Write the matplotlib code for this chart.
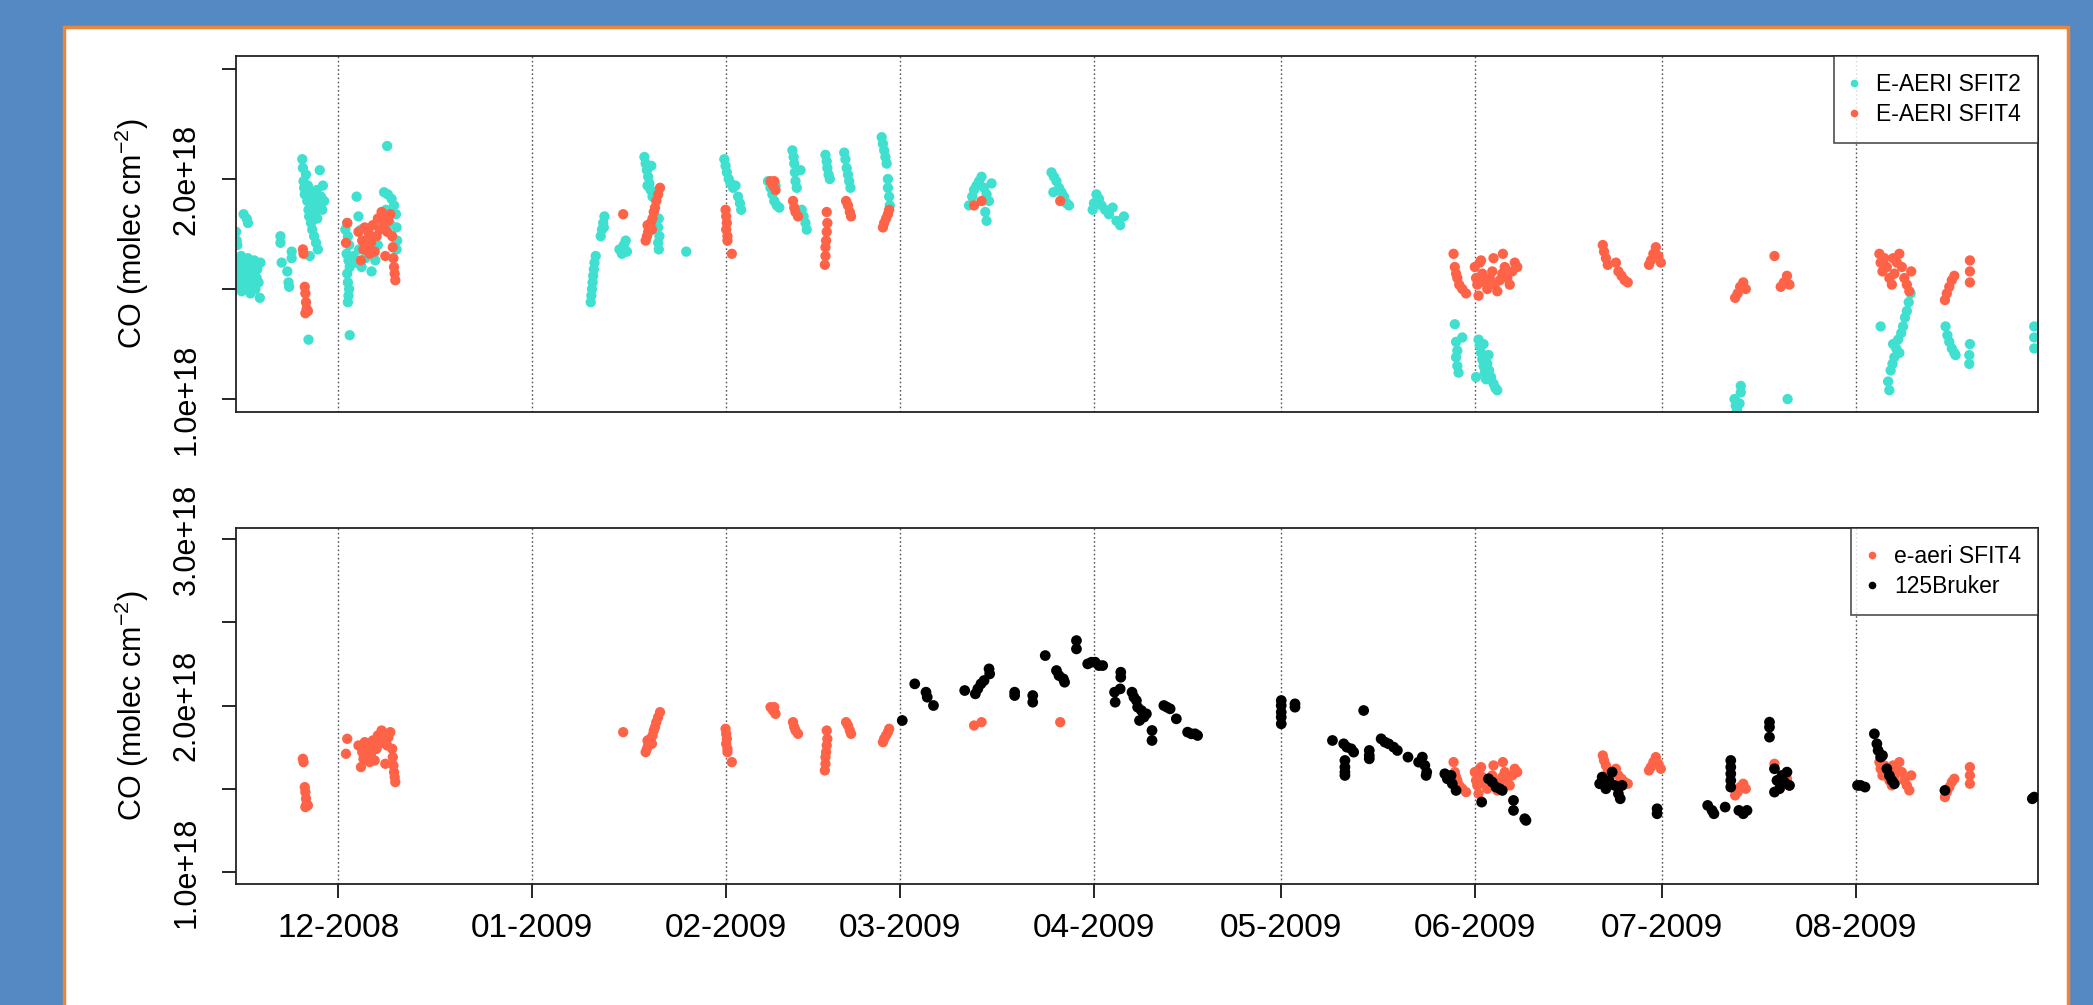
import numpy as np
import matplotlib.pyplot as plt
import matplotlib.dates as mdates
from matplotlib.lines import Line2D
from matplotlib.patches import Rectangle
from datetime import datetime

plt.rcParams['font.family'] = ['Liberation Sans', 'DejaVu Sans']
plt.rcParams['mathtext.fontset'] = 'custom'
plt.rcParams['mathtext.rm'] = 'Liberation Sans'
plt.rcParams['mathtext.it'] = 'Liberation Sans:italic'
plt.rcParams['mathtext.bf'] = 'Liberation Sans:bold'

START = datetime(2008, 12, 1)

# (days since 2008-12-01, CO column in 1e18 molec cm-2)
sfit2 = [
    (-16.4, 1.76), (-16.3, 1.72), (-16.4, 1.62), (-16.4, 1.55), (-16.2, 1.70), (-16.0, 1.58),
    (-15.8, 1.52), (-15.6, 1.65), (-15.5, 1.49), (-15.3, 1.57), (-15.1, 1.61), (-15.0, 1.53),
    (-14.8, 1.50), (-14.6, 1.58), (-14.5, 1.64), (-14.3, 1.55), (-14.1, 1.48), (-14.0, 1.60),
    (-13.8, 1.52), (-13.6, 1.57), (-13.5, 1.63), (-13.3, 1.50), (-13.1, 1.55), (-13.0, 1.59),
    (-12.8, 1.53), (-12.6, 1.46), (-12.5, 1.62), (-15.2, 1.84), (-14.7, 1.82), (-14.5, 1.80),
    (-9.3, 1.74), (-9.3, 1.71), (-9.1, 1.62), (-8.2, 1.58), (-8.0, 1.53), (-7.9, 1.51),
    (-7.5, 1.67), (-7.5, 1.64),
    (-5.8, 2.09), (-5.7, 2.05), (-5.6, 1.99), (-5.5, 1.96), (-5.4, 1.93), (-5.2, 2.02),
    (-5.0, 1.90), (-4.9, 1.97), (-4.8, 1.86), (-4.7, 1.83), (-4.5, 1.94), (-4.4, 1.80),
    (-4.3, 1.88), (-4.2, 1.77), (-4.0, 1.91), (-3.9, 1.74), (-3.8, 1.85), (-3.6, 1.71),
    (-3.5, 1.95), (-3.4, 1.82), (-3.3, 1.68), (-3.1, 1.89), (-3.0, 2.04), (-2.8, 1.92),
    (-2.6, 1.86), (-2.5, 1.97), (-2.3, 1.90), (-4.8, 1.27), (-4.6, 1.65),
    (2.9, 1.92), (3.2, 1.83), (1.4, 1.80), (1.1, 1.77), (1.5, 1.74), (1.7, 1.70), (1.3, 1.66),
    (1.6, 1.63), (1.8, 1.60), (1.4, 1.57), (1.5, 1.53), (1.7, 1.50), (1.6, 1.47), (1.5, 1.44),
    (1.8, 1.29), (2.4, 1.65), (2.8, 1.62), (3.3, 1.68), (3.7, 1.60), (4.3, 1.64), (4.8, 1.66),
    (5.3, 1.58), (5.9, 1.63), (6.3, 1.70), (4.1, 1.72), (3.6, 1.77),
    (7.8, 2.15), (7.3, 1.94), (7.9, 1.93), (8.5, 1.91), (8.9, 1.88), (9.2, 1.84), (9.3, 1.78),
    (9.4, 1.72), (9.3, 1.68), (7.6, 1.86), (8.2, 1.80),
    (40.4, 1.44), (40.5, 1.47), (40.6, 1.50), (40.7, 1.53), (40.8, 1.56), (40.9, 1.59),
    (41.0, 1.62), (41.2, 1.65), (42.0, 1.74), (42.2, 1.77), (42.4, 1.80), (42.6, 1.83),
    (42.5, 1.78), (45.0, 1.68), (45.4, 1.66), (45.7, 1.70), (46.0, 1.72), (46.2, 1.67),
    (49.0, 2.10), (49.2, 2.07), (49.4, 2.04), (49.6, 2.01), (49.8, 1.98), (50.0, 1.95),
    (50.3, 1.92), (50.1, 2.06), (49.5, 1.97), (51.3, 1.82), (51.2, 1.78), (51.4, 1.74),
    (51.2, 1.71), (51.3, 1.68), (55.7, 1.67),
    (61.8, 2.09), (62.0, 2.06), (62.2, 2.03), (62.5, 2.00), (62.8, 1.98), (63.2, 1.96),
    (63.6, 1.97), (64.0, 1.92), (64.3, 1.89), (64.5, 1.86),
    (68.8, 1.99), (69.2, 1.96), (69.5, 1.93), (69.8, 1.90), (70.2, 1.88), (70.6, 1.87), (70.0, 1.97),
    (72.7, 2.13), (72.9, 2.10), (73.0, 2.07), (73.1, 2.03), (73.2, 1.99), (73.4, 1.96),
    (74.0, 2.04), (74.2, 1.86), (74.5, 1.83), (74.8, 1.80), (75.0, 1.77),
    (78.0, 2.11), (78.2, 2.08), (78.3, 2.05), (78.5, 2.02), (78.7, 2.00),
    (81.0, 2.12), (81.2, 2.09), (81.4, 2.05), (81.6, 2.02), (81.8, 1.99), (82.0, 1.96),
    (87.0, 2.19), (87.2, 2.16), (87.4, 2.13), (87.6, 2.10), (87.8, 2.07), (88.0, 2.00),
    (88.0, 1.96), (88.2, 1.92), (88.3, 1.88),
    (101.0, 1.88), (101.5, 1.92), (101.8, 1.95), (102.2, 1.97), (102.6, 1.99), (103.0, 2.01),
    (103.4, 1.96), (103.8, 1.93), (104.2, 1.90), (103.6, 1.85), (103.8, 1.81), (104.6, 1.98),
    (114.2, 2.03), (114.6, 2.01), (115.0, 1.99), (115.4, 1.96), (115.8, 1.94), (116.2, 1.92),
    (116.6, 1.89), (117.0, 1.88), (114.5, 1.94),
    (120.8, 1.86), (121.0, 1.89), (121.4, 1.93), (121.8, 1.91), (122.2, 1.88), (122.8, 1.86),
    (123.4, 1.84), (124.0, 1.87), (124.6, 1.81), (125.2, 1.79), (125.8, 1.83),
    (178.8, 1.34), (179.0, 1.26), (179.2, 1.22), (179.0, 1.19), (179.2, 1.15), (179.4, 1.12),
    (180.0, 1.28), (182.2, 1.10), (182.6, 1.27), (182.8, 1.24), (183.0, 1.21), (183.2, 1.18),
    (183.4, 1.15), (183.6, 1.12), (183.8, 1.09), (184.0, 1.16), (184.3, 1.13), (184.6, 1.10),
    (185.0, 1.07), (185.3, 1.05), (185.6, 1.04), (184.2, 1.20), (183.4, 1.25),
    (223.6, 1.00), (223.8, 0.97), (224.0, 0.95), (224.4, 0.98), (224.6, 1.03), (224.6, 1.06),
    (232.1, 1.00),
    (247.0, 1.33), (248.2, 1.08), (248.4, 1.04), (248.6, 1.13), (248.9, 1.16), (249.2, 1.19),
    (249.5, 1.23), (249.8, 1.27), (250.0, 1.21), (250.3, 1.30), (250.6, 1.33), (250.9, 1.37),
    (251.2, 1.40), (251.5, 1.44), (251.8, 1.48), (249.0, 1.25),
    (257.4, 1.33), (257.7, 1.29), (258.0, 1.26), (258.4, 1.23), (258.8, 1.21), (259.0, 1.20),
    (261.3, 1.25), (261.2, 1.20), (261.2, 1.16),
    (271.6, 1.33), (271.6, 1.28), (271.6, 1.23),
]

sfit4 = [
    (-5.7, 1.68), (-5.6, 1.66), (-5.4, 1.51), (-5.3, 1.48), (-5.2, 1.44), (-5.1, 1.41),
    (-4.9, 1.40), (-5.3, 1.39),
    (1.4, 1.80), (1.2, 1.71), (3.6, 1.63), (3.2, 1.76), (3.8, 1.72), (4.2, 1.78), (4.5, 1.69),
    (4.9, 1.75), (5.2, 1.71), (5.5, 1.79), (5.8, 1.67), (6.1, 1.74), (6.3, 1.82), (6.6, 1.77),
    (6.9, 1.85), (7.2, 1.79), (7.5, 1.83), (7.8, 1.76), (8.0, 1.81), (8.3, 1.84), (7.5, 1.65),
    (8.6, 1.74), (8.7, 1.69), (8.8, 1.64), (8.9, 1.60), (9.0, 1.57), (9.1, 1.54), (4.0, 1.68),
    (5.0, 1.66),
    (45.6, 1.84), (49.2, 1.72), (49.4, 1.74), (49.6, 1.76), (49.8, 1.78), (50.0, 1.80),
    (50.3, 1.82), (50.5, 1.85), (50.7, 1.87), (50.9, 1.90), (51.2, 1.93), (51.5, 1.96),
    (49.5, 1.79), (50.2, 1.77),
    (62.0, 1.86), (62.1, 1.83), (62.2, 1.80), (62.1, 1.77), (62.3, 1.74), (62.3, 1.72), (63.0, 1.66),
    (69.2, 1.99), (69.6, 1.97), (70.0, 1.95), (69.8, 1.99),
    (72.8, 1.90), (73.0, 1.87), (73.2, 1.85), (73.6, 1.83),
    (78.2, 1.85), (78.3, 1.80), (78.2, 1.76), (78.1, 1.72), (78.0, 1.69), (78.0, 1.65), (77.9, 1.61),
    (81.3, 1.90), (81.6, 1.88), (81.9, 1.85), (82.1, 1.83),
    (87.2, 1.78), (87.4, 1.80), (87.7, 1.82), (88.0, 1.84), (88.2, 1.86),
    (101.8, 1.88), (103.0, 1.90), (115.6, 1.90),
    (178.6, 1.66), (178.8, 1.60), (179.0, 1.57), (179.2, 1.55), (179.5, 1.52), (180.0, 1.50),
    (180.6, 1.48),
    (182.0, 1.60), (182.2, 1.55), (182.4, 1.52), (182.6, 1.47), (182.8, 1.62), (183.2, 1.57),
    (183.6, 1.53), (184.0, 1.50), (184.4, 1.55), (184.8, 1.58), (185.2, 1.52), (185.6, 1.49),
    (186.0, 1.54), (186.4, 1.57), (186.8, 1.60), (187.2, 1.55), (187.6, 1.52), (188.0, 1.58),
    (188.4, 1.62), (188.8, 1.60), (185.0, 1.64), (186.5, 1.66), (183.0, 1.63),
    (202.5, 1.70), (202.7, 1.67), (203.0, 1.64), (203.3, 1.61),
    (204.6, 1.62), (205.0, 1.58), (205.5, 1.56), (206.0, 1.54), (206.5, 1.53),
    (209.9, 1.61), (210.2, 1.63), (210.6, 1.66), (211.0, 1.69), (211.4, 1.65), (211.8, 1.62),
    (223.7, 1.46), (224.1, 1.48), (224.5, 1.51), (225.0, 1.53), (225.4, 1.50),
    (230.0, 1.65), (231.0, 1.51), (231.5, 1.53), (232.0, 1.56), (232.4, 1.52),
    (246.8, 1.66), (247.0, 1.62), (247.3, 1.58), (247.6, 1.64), (248.0, 1.60), (248.4, 1.55),
    (248.8, 1.52), (249.2, 1.57), (249.6, 1.62), (250.0, 1.66), (250.4, 1.60), (250.8, 1.55),
    (251.2, 1.52), (251.6, 1.49), (251.9, 1.58), (249.0, 1.64),
    (257.3, 1.45), (257.6, 1.48), (258.0, 1.51), (258.4, 1.54), (258.8, 1.56),
    (261.3, 1.63), (261.3, 1.58), (261.3, 1.53),
]

bruker = [
    (90.3, 1.91), (92.3, 2.13), (94.1, 2.08), (94.3, 2.05), (95.3, 2.00), (100.3, 2.09),
    (102.0, 2.07), (102.4, 2.10), (102.9, 2.13), (103.4, 2.15), (104.2, 2.22), (104.3, 2.19),
    (108.3, 2.08), (108.3, 2.06), (111.2, 2.06), (111.2, 2.02), (113.2, 2.30), (115.0, 2.21),
    (115.4, 2.18), (116.1, 2.16), (116.3, 2.14), (118.2, 2.39), (118.2, 2.34), (120.0, 2.25),
    (120.6, 2.26), (121.2, 2.26), (121.8, 2.24), (122.4, 2.24), (124.3, 2.08), (124.4, 2.02),
    (125.3, 2.20), (125.3, 2.17), (125.2, 2.10), (127.1, 2.08), (127.4, 2.05), (127.8, 2.03),
    (128.0, 1.99), (128.6, 1.97), (129.0, 1.93), (128.3, 1.91), (129.4, 1.95), (130.3, 1.85),
    (130.3, 1.79), (132.2, 2.00), (132.7, 1.99), (133.2, 1.98), (134.2, 1.92), (136.0, 1.84),
    (136.6, 1.83), (137.2, 1.83), (137.6, 1.82),
    (151.0, 2.03), (151.0, 2.00), (151.0, 1.96), (151.0, 1.93), (151.0, 1.89), (153.2, 1.99),
    (153.2, 2.01),
    (159.2, 1.79), (161.0, 1.77), (161.5, 1.75), (162.2, 1.74), (162.6, 1.72), (161.2, 1.67),
    (161.2, 1.63), (161.2, 1.60), (161.2, 1.58), (164.2, 1.97), (165.1, 1.73), (165.1, 1.70),
    (165.1, 1.68), (167.0, 1.80), (167.6, 1.78), (168.2, 1.77), (169.0, 1.75), (169.6, 1.73),
    (171.3, 1.69), (173.0, 1.66), (173.6, 1.69), (174.0, 1.64), (174.3, 1.60), (174.2, 1.58),
    (177.2, 1.59), (177.6, 1.56), (178.2, 1.58), (178.4, 1.53), (179.0, 1.49),
    (183.1, 1.42), (184.2, 1.56), (184.8, 1.54), (185.4, 1.51), (186.0, 1.50), (186.4, 1.49),
    (188.2, 1.43), (188.2, 1.37), (190.2, 1.31), (190.0, 1.32),
    (202.0, 1.53), (202.4, 1.57), (203.0, 1.50), (203.5, 1.55), (204.0, 1.60), (204.4, 1.52),
    (205.0, 1.47), (205.3, 1.44), (205.6, 1.52), (211.2, 1.38), (211.2, 1.35),
    (219.3, 1.40), (220.0, 1.37), (220.3, 1.35), (222.1, 1.39), (223.0, 1.67), (223.0, 1.63),
    (223.0, 1.59), (223.0, 1.55), (223.0, 1.51), (224.3, 1.37), (225.0, 1.35), (225.6, 1.37),
    (229.2, 1.90), (229.2, 1.87), (229.2, 1.81), (230.0, 1.62), (230.4, 1.55), (230.8, 1.50),
    (231.2, 1.58), (231.6, 1.54), (232.0, 1.60), (232.4, 1.52), (230.0, 1.48),
    (243.3, 1.52), (243.8, 1.52), (244.5, 1.51), (246.0, 1.83), (246.4, 1.77), (246.6, 1.73),
    (247.0, 1.69), (247.3, 1.70), (248.0, 1.62), (248.4, 1.58), (248.8, 1.55), (249.2, 1.53),
    (257.3, 1.49), (271.3, 1.44), (271.6, 1.45),
]

month_starts = [datetime(2008, 12, 1), datetime(2009, 1, 1), datetime(2009, 2, 1),
                datetime(2009, 3, 1), datetime(2009, 4, 1), datetime(2009, 5, 1),
                datetime(2009, 6, 1), datetime(2009, 7, 1), datetime(2009, 8, 1)]
month_labels = ['12-2008', '01-2009', '02-2009', '03-2009', '04-2009',
                '05-2009', '06-2009', '07-2009', '08-2009']

T0 = mdates.date2num(START)
XLIM = (T0 - 16.4, T0 + 272.2)
TURQ = '#40E0D0'
TOMATO = '#FF6347'
BLUE = '#5589C4'
YLAB = 'CO (molec cm$^{-2}$)'


def xy(pairs):
    a = np.array(pairs)
    return T0 + a[:, 0], a[:, 1]


def style(ax, ylim, yticks, ylabels):
    ax.set_xlim(*XLIM)
    ax.set_ylim(*ylim)
    for m in month_starts:
        ax.axvline(mdates.date2num(m), color='#555555', lw=1.0, ls=(0, (1.2, 1.8)), zorder=1)
    ax.set_yticks(yticks)
    ax.set_yticklabels(ylabels, rotation=90, va='center')
    ax.tick_params(axis='y', direction='out', length=10, width=1.2, pad=15, labelsize=22)
    for s in ax.spines.values():
        s.set_color('#222222')
        s.set_linewidth(1.3)
    ax.set_ylabel(YLAB, fontsize=22)
    ax.yaxis.set_label_coords(-0.047, 0.5)


def legend(ax, colors, labels):
    handles = [Line2D([], [], ls='none', marker='o', ms=5.5, mec='none', color=c)
               for c in colors]
    leg = ax.legend(handles, labels, loc='upper right', fontsize=16.5,
                    frameon=True, fancybox=False, borderaxespad=0, handlelength=0.3,
                    handletextpad=0.8, borderpad=0.75, labelspacing=0.3)
    leg.get_frame().set_edgecolor('#222222')
    leg.get_frame().set_linewidth(1.2)


fig = plt.figure(figsize=(20.93, 10.05), dpi=100)
fig.patch.set_facecolor(BLUE)
fig.add_artist(Rectangle((64 / 2093, -0.02), (2068 - 64) / 2093, 1.02 - 27 / 1005,
                         transform=fig.transFigure, facecolor='white',
                         edgecolor='#E8873A', lw=2.5, zorder=0))

ax1 = fig.add_axes([0.1128, 0.5900, 0.8609, 0.3543])
ax2 = fig.add_axes([0.1128, 0.1204, 0.8609, 0.3542])

# top panel
x, y = xy(sfit2)
ax1.scatter(x, y, s=55, color=TURQ, edgecolors='none', zorder=2)
x, y = xy(sfit4)
ax1.scatter(x, y, s=55, color=TOMATO, edgecolors='none', zorder=3)
style(ax1, (0.941, 2.559), [1.0, 1.5, 2.0, 2.5], ['1.0e+18', '', '2.0e+18', ''])
ax1.tick_params(axis='x', bottom=False, labelbottom=False)
legend(ax1, [TURQ, TOMATO], ['E-AERI SFIT2', 'E-AERI SFIT4'])

# bottom panel
x, y = xy(sfit4)
ax2.scatter(x, y, s=55, color=TOMATO, edgecolors='none', zorder=2)
x, y = xy(bruker)
ax2.scatter(x, y, s=60, color='black', edgecolors='none', zorder=3)
style(ax2, (0.928, 3.066), [1.0, 1.5, 2.0, 2.5, 3.0],
      ['1.0e+18', '', '2.0e+18', '', '3.0e+18'])
ax2.set_xticks([mdates.date2num(m) for m in month_starts])
ax2.set_xticklabels(month_labels)
ax2.tick_params(axis='x', direction='out', length=10, width=1.2, pad=11, labelsize=24)
legend(ax2, [TOMATO, 'black'], ['e-aeri SFIT4', '125Bruker'])

fig.savefig('out.png', dpi=100, facecolor=fig.get_facecolor())
